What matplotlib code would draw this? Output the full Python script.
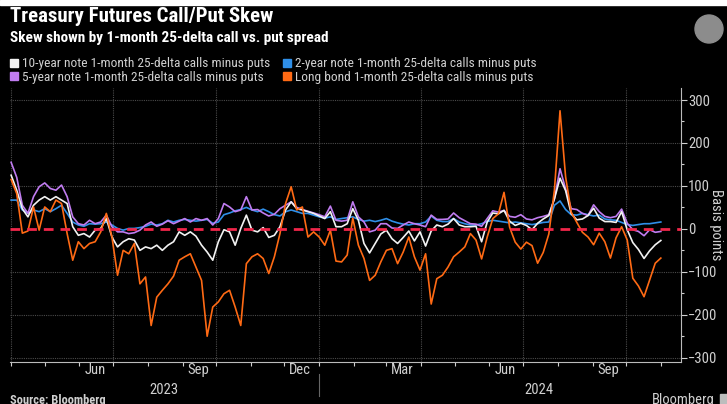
import numpy as np
import pandas as pd
import matplotlib
matplotlib.use('Agg')
import matplotlib.pyplot as plt
import matplotlib.dates as mdates
from matplotlib.lines import Line2D
from matplotlib.patches import Rectangle, Circle

# one observation every 5 days from early April 2023
dates = pd.date_range('2023-04-01', periods=117, freq='5D')

ten_year = [125, 90, 47, 28, 55, 67, 75, 67, 75, 67,
            59, 5, -15, -11, -19, -3, 1, 24, -19, -42,
            -30, -23, -26, -50, -42, -46, -38, -50, -38, -30,
            -7, -15, -7, -17, -38, -54, -73, -30, -2, -7,
            -38, 1, 32, -3, -7, 3, -20, -15, 5, 44,
            63, 47, 44, 40, 36, 30, 24, 40, 5, 5,
            12, 47, 20, -34, -56, -34, -12, -3, -23, -34,
            -20, -5, -28, -7, -40, -5, 9, 5, 11, 24,
            9, 5, 5, 6, -30, 16, 37, 35, 43, 18,
            8, 13, 8, -2, 13, 23, 31, 70, 118, 89,
            35, 21, 23, 31, 48, 25, 17, 17, 15, 40,
            -2, -32, -48, -69, -51, -37, -27]

two_year = [67, 67, 44, 36, 44, 40, 47, 40, 47, 55,
            36, 16, 9, 6, 12, 11, 12, 16, 9, 1,
            -3, 1, 1, 3, 6, 11, 9, 12, 20, 16,
            20, 22, 20, 18, 20, 22, 13, 16, 33, 37,
            42, 45, 50, 44, 40, 46, 40, 33, 30, 40,
            44, 40, 36, 36, 32, 28, 25, 28, 22, 24,
            26, 28, 22, 18, 20, 17, 20, 24, 18, 14,
            11, 9, 12, 12, 16, 30, 20, 17, 17, 24,
            16, 12, 9, 9, 12, 17, 20, 18, 16, 14,
            16, 14, 12, 10, 12, 15, 16, 55, 65, 45,
            33, 32, 36, 33, 30, 32, 23, 21, 20, 15,
            10, 8, 10, 12, 12, 14, 16]

five_year = [155, 120, 55, 36, 75, 98, 107, 94, 90, 102,
             75, 28, 12, 9, 20, 12, 16, 32, 5, -7,
             -7, -11, -9, -3, 9, 16, 6, 11, 19, 12,
             18, 24, 16, 24, 20, 24, 9, 24, 59, 51,
             40, 44, 75, 44, 45, 37, 30, 34, 47, 55,
             63, 50, 45, 41, 37, 33, 28, 53, 20, 18,
             20, 63, 28, 16, -7, -3, 12, 12, 2, 1,
             9, 16, 12, 9, 5, 32, 22, 22, 23, 37,
             26, 19, 12, 11, 6, 24, 42, 39, 43, 29,
             27, 33, 23, 21, 26, 29, 33, 70, 140, 93,
             47, 45, 36, 31, 56, 40, 29, 26, 29, 46,
             13, -2, -6, -16, -2, -8, -6]

long_bond = [115, 82, -10, -5, 51, -3, 51, 40, 67, 59,
             -11, -73, -30, -46, -34, -30, -7, 36, -19, -108,
             -50, -58, -34, -128, -112, -225, -159, -143, -128, -110,
             -73, -65, -58, -89, -120, -250, -182, -170, -151, -143,
             -182, -225, -81, -65, -58, -69, -104, -65, -11, 59,
             98, 44, 51, -19, -7, -19, -38, -3, -75, -77,
             -61, 25, -38, -69, -120, -108, -77, -50, -46, -81,
             -54, -19, -65, -96, -58, -175, -116, -108, -89, -65,
             -54, -42, -11, -26, -70, -19, 24, 35, 85, 4,
             -31, -47, -31, -39, -80, -55, -12, 90, 275, 121,
             39, 15, -8, -19, -37, -10, -30, -68, -21, 5,
             -26, -115, -133, -158, -119, -80, -68]

labels = ['10-year note 1-month 25-delta calls minus puts',
          '5-year note 1-month 25-delta calls minus puts',
          '2-year note 1-month 25-delta calls minus puts',
          'Long bond 1-month 25-delta calls minus puts']
colors = ['#f2f2f2', '#c07cf0', '#2f8fe8', '#ff6a14']

# condensed look like the Bloomberg chart font
plt.rcParams['font.family'] = ['Roboto Condensed', 'DejaVu Sans']
plt.rcParams['font.stretch'] = 'condensed'

bg = 'black'
txt = '#d0d0d0'

fig = plt.figure(figsize=(7.27, 4.04), dpi=100, facecolor=bg)
W, H = 727, 404
ax = fig.add_axes([10 / W, 1 - 362 / H, (681 - 10) / W, (362 - 88) / H])
ax.set_facecolor(bg)

# grid
for v in [300, 200, 100, -100, -200, -300]:
    ax.axhline(v, color='#4a4a4a', lw=0.8, ls=(0, (1, 1)), zorder=1)
for d in ['2023-04-01', '2023-07-01', '2023-10-01', '2024-01-01',
          '2024-04-01', '2024-07-01', '2024-10-01']:
    ax.axvline(pd.Timestamp(d), color='#4a4a4a', lw=0.8, ls=(0, (1, 1)), zorder=1)

ax.plot(dates, two_year, color=colors[2], lw=1.2, zorder=3)
ax.plot(dates, five_year, color=colors[1], lw=1.2, zorder=4)
ax.plot(dates, ten_year, color=colors[0], lw=1.2, zorder=5)
ax.plot(dates, long_bond, color=colors[3], lw=1.2, zorder=6)
ax.axhline(0, color='#f0264a', lw=2, ls=(0, (3.5, 2.5)), zorder=7)

ax.set_xlim(pd.Timestamp('2023-03-31'), pd.Timestamp('2024-11-19'))
ax.set_ylim(-310, 328)

# y axis on the right
ax.yaxis.tick_right()
ax.yaxis.set_label_position('right')
ax.set_yticks([300, 200, 100, 0, -100, -200, -300])
ax.set_yticks(np.arange(-300, 301, 50), minor=True)
ax.tick_params(axis='y', which='major', colors=txt, labelsize=10.5, length=4, width=0.8, pad=1)
ax.tick_params(axis='y', which='minor', colors=txt, length=2, width=0.8)
ax.set_ylabel('Basis points', color=txt, fontsize=10.5, rotation=270, va='center')
ax.yaxis.set_label_coords((716 - 10) / (681 - 10), 0.5)

# x axis: month labels in the middle of the month, ticks at month starts
ax.xaxis.set_major_locator(mdates.MonthLocator(bymonth=[3, 6, 9, 12], bymonthday=15))
ax.xaxis.set_major_formatter(mdates.DateFormatter('%b'))
ax.xaxis.set_minor_locator(mdates.MonthLocator(bymonthday=1))
ax.tick_params(axis='x', which='major', colors=txt, labelsize=10.5, length=0, pad=1)
ax.tick_params(axis='x', which='minor', color=txt, length=3, width=0.8)

for s in ['top', 'left']:
    ax.spines[s].set_visible(False)
ax.spines['right'].set_color('#bbbbbb')
ax.spines['bottom'].set_color('#bbbbbb')

tr = ax.get_xaxis_transform()
ax.text(pd.Timestamp('2023-08-15'), -0.075, '2023', transform=tr, color=txt,
        fontsize=10.5, ha='center', va='top')
ax.text(pd.Timestamp('2024-07-15'), -0.075, '2024', transform=tr, color=txt,
        fontsize=10.5, ha='center', va='top')
ax.plot([pd.Timestamp('2024-01-01')] * 2, [-0.045, -0.125], transform=tr,
        color='#666666', lw=0.8, clip_on=False)

# titles
fig.text(10 / W, 1 - 17 / H, 'Treasury Futures Call/Put Skew', color='white',
         fontsize=15, fontweight='bold', va='center', ha='left')
fig.text(10 / W, 1 - 38 / H, 'Skew shown by 1-month 25-delta call vs. put spread',
         color='white', fontsize=11, fontweight='bold', va='center', ha='left')

handles = [Line2D([], [], marker='s', ls='none', color=c, markersize=6) for c in colors]
fig.legend(handles, labels, loc='upper left', bbox_to_anchor=(5 / W, 1 - 52 / H),
           ncol=2, frameon=False, labelcolor=txt, handlelength=0.6,
           handletextpad=0.3, columnspacing=0.9, labelspacing=0.05,
           borderaxespad=0, fontsize=9.6)

fig.text(10 / W, 1 - 407 / H, 'Source: Bloomberg', color=txt, fontsize=9,
         fontweight='bold', va='bottom', ha='left')
fig.text(715 / W, 1 - 407 / H, 'Bloomberg', color=txt, fontsize=10.5,
         va='bottom', ha='right')

# strip of the page above the chart, the screenshot icon, the logo stub
fig.patches.append(Rectangle((0, 1 - 5 / H), 1, 5 / H, transform=fig.transFigure,
                             color='white', zorder=0))
fig.patches.append(Circle((709, H - 29), 14, transform=None,
                          color='#8c8c8c', zorder=0))
fig.patches.append(Rectangle((720, 0), 8, 10, transform=None,
                             color='#bdbdbd', zorder=0))

fig.savefig('out.png', dpi=100, facecolor=bg)
